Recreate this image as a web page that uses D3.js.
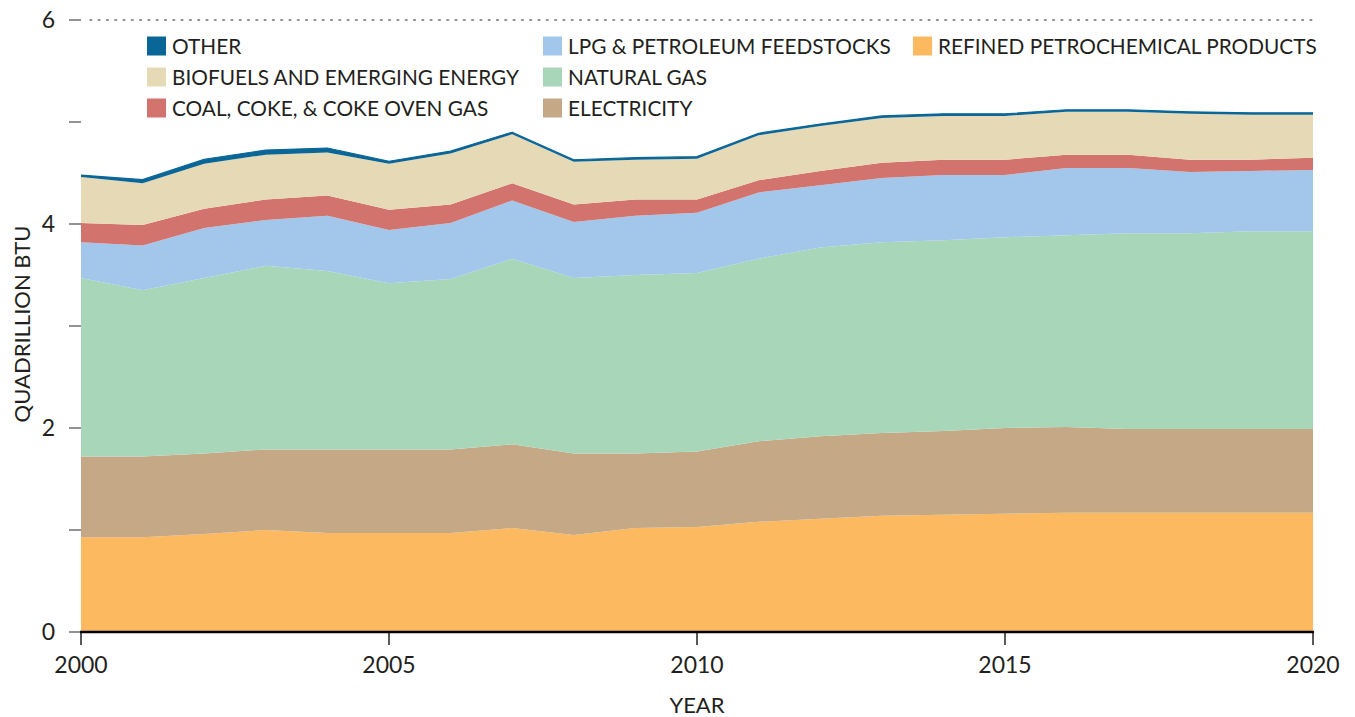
<!DOCTYPE html>
<html>
<head>
<meta charset="utf-8">
<script src="https://cdn.jsdelivr.net/npm/d3@7"></script>
<style>
  html, body { margin: 0; padding: 0; background: #fff; }
  svg text { font-family: Lato, "Open Sans", sans-serif; fill: #231f20; }
</style>
</head>
<body>
<svg id="chart" width="1355" height="717"></svg>
<script>
// Industrial energy consumption by fuel, quadrillion Btu
const years = d3.range(2000, 2021);

const refined     = [0.93,0.93,0.96,1.00,0.97,0.97,0.97,1.02,0.95,1.02,1.03,1.08,1.11,1.14,1.15,1.16,1.17,1.17,1.17,1.17,1.17];
const electricity = [0.79,0.79,0.79,0.79,0.82,0.82,0.82,0.82,0.80,0.73,0.74,0.79,0.81,0.81,0.82,0.84,0.84,0.82,0.82,0.82,0.82];
const naturalGas  = [1.75,1.63,1.72,1.80,1.75,1.63,1.67,1.82,1.72,1.75,1.75,1.79,1.85,1.87,1.87,1.87,1.88,1.92,1.92,1.94,1.94];
const lpg         = [0.35,0.44,0.49,0.45,0.54,0.52,0.55,0.57,0.55,0.58,0.59,0.65,0.61,0.63,0.64,0.61,0.66,0.64,0.60,0.59,0.60];
const coal        = [0.19,0.20,0.19,0.20,0.20,0.20,0.18,0.17,0.17,0.16,0.13,0.12,0.14,0.15,0.15,0.15,0.13,0.13,0.12,0.11,0.12];
const biofuels    = [0.45,0.41,0.44,0.44,0.42,0.45,0.50,0.48,0.42,0.39,0.40,0.44,0.44,0.44,0.43,0.43,0.42,0.42,0.45,0.44,0.42];
const other       = [0.02,0.035,0.045,0.045,0.045,0.025,0.025,0.02,0.02,0.02,0.02,0.02,0.02,0.02,0.02,0.02,0.02,0.02,0.02,0.02,0.02];

// stacking order, bottom to top
const seriesKeys = ["refined","electricity","naturalGas","lpg","coal","biofuels","other"];
const seriesLabels = {
  refined: "REFINED PETROCHEMICAL PRODUCTS",
  electricity: "ELECTRICITY",
  naturalGas: "NATURAL GAS",
  lpg: "LPG & PETROLEUM FEEDSTOCKS",
  coal: "COAL, COKE, & COKE OVEN GAS",
  biofuels: "BIOFUELS AND EMERGING ENERGY",
  other: "OTHER"
};
const seriesColors = {
  refined: "#fcb960",
  electricity: "#c5a987",
  naturalGas: "#a8d6b9",
  lpg: "#a2c7ea",
  coal: "#d3736e",
  biofuels: "#e6d9b6",
  other: "#0b6698"
};
const seriesValues = { refined, electricity, naturalGas, lpg, coal, biofuels, other };

const yTicks = [0, 1, 2, 3, 4, 5, 6];
const yTickLabels = { 0: "0", 2: "2", 4: "4", 6: "6" };
const xTicks = [2000, 2005, 2010, 2015, 2020];

// legend layout: [key, column, row]
const legendItems = [
  ["other", 0, 0], ["biofuels", 0, 1], ["coal", 0, 2],
  ["lpg", 1, 0], ["naturalGas", 1, 1], ["electricity", 1, 2],
  ["refined", 2, 0]
];

const table = years.map((yr, i) => {
  const row = { year: yr };
  seriesKeys.forEach(k => row[k] = seriesValues[k][i]);
  return row;
});

const svg = d3.select("#chart");
const x = d3.scaleLinear().domain([2000, 2020]).range([81, 1313]);
const y = d3.scaleLinear().domain([0, 6]).range([632, 20]);

const stacked = d3.stack().keys(seriesKeys)(table);

const area = d3.area()
  .x(d => x(d.data.year))
  .y0(d => y(d[0]))
  .y1(d => y(d[1]));

svg.append("g").selectAll("path")
  .data(stacked)
  .join("path")
  .attr("d", area)
  .attr("fill", d => seriesColors[d.key]);

// outline the thin top band so it stays visible
const topLayer = stacked[stacked.length - 1];
svg.append("path")
  .datum(topLayer)
  .attr("d", d3.line().x(d => x(d.data.year)).y(d => y(d[1])))
  .attr("fill", "none")
  .attr("stroke", seriesColors.other)
  .attr("stroke-width", 1.2)
  .attr("stroke-linejoin", "round");

// dotted gridline at the top value
svg.append("line")
  .attr("x1", 90).attr("x2", x(2020))
  .attr("y1", y(6)).attr("y2", y(6))
  .attr("stroke", "#6d6e71")
  .attr("stroke-width", 1.6)
  .attr("stroke-dasharray", "1.6,6.7")
  .attr("stroke-linecap", "round");

// y axis ticks and labels
const yAxis = svg.append("g");
yAxis.selectAll("line")
  .data(yTicks)
  .join("line")
  .attr("x1", 69).attr("x2", 81)
  .attr("y1", d => y(d)).attr("y2", d => y(d))
  .attr("stroke", "#58595b")
  .attr("stroke-width", 1.3);
yAxis.selectAll("text")
  .data(yTicks.filter(t => yTickLabels[t] !== undefined))
  .join("text")
  .attr("x", 55)
  .attr("y", d => y(d))
  .attr("dy", "0.36em")
  .attr("text-anchor", "end")
  .attr("font-size", 23)
  .text(d => yTickLabels[d]);

// x axis
const xAxis = svg.append("g");
xAxis.append("line")
  .attr("x1", x(2000) - 1).attr("x2", x(2020) + 1)
  .attr("y1", 632).attr("y2", 632)
  .attr("stroke", "#000")
  .attr("stroke-width", 2.4);
xAxis.selectAll("line.tick")
  .data(xTicks)
  .join("line")
  .attr("class", "tick")
  .attr("x1", d => x(d)).attr("x2", d => x(d))
  .attr("y1", 632).attr("y2", 645)
  .attr("stroke", "#000")
  .attr("stroke-width", 1.3);
xAxis.selectAll("text")
  .data(xTicks)
  .join("text")
  .attr("x", d => x(d))
  .attr("y", 673)
  .attr("text-anchor", "middle")
  .attr("font-size", 23)
  .text(d => d);

// axis titles
svg.append("text")
  .attr("x", 697).attr("y", 713)
  .attr("text-anchor", "middle")
  .attr("font-size", 22)
  .text("YEAR");
svg.append("text")
  .attr("transform", "translate(30,324) rotate(-90)")
  .attr("text-anchor", "middle")
  .attr("font-size", 22)
  .text("QUADRILLION BTU");

// legend
const colX = [147, 543, 913];
const rowY = [46, 77, 108];
const legend = svg.append("g").selectAll("g")
  .data(legendItems)
  .join("g")
  .attr("transform", d => `translate(${colX[d[1]]},${rowY[d[2]]})`);
legend.append("rect")
  .attr("x", 0).attr("y", -9.5)
  .attr("width", 19).attr("height", 19)
  .attr("fill", d => seriesColors[d[0]]);
legend.append("text")
  .attr("x", 25).attr("y", 0)
  .attr("dy", "0.36em")
  .attr("font-size", 20.8)
  .text(d => seriesLabels[d[0]]);
</script>
</body>
</html>
